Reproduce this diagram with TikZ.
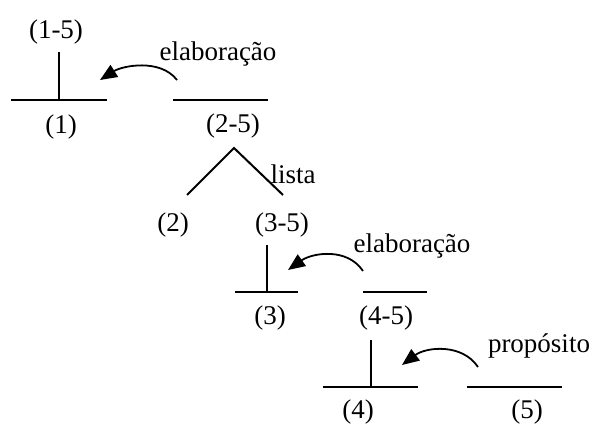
\documentclass[tikz,border=0pt]{standalone}
\usepackage{fontspec}
\setmainfont{Liberation Serif}
\usetikzlibrary{positioning,
				arrows.meta}

\begin{document}
\begin{tikzpicture}[x=1pt,y=-1pt,
		seg/.style={line width=2pt},
		rel/.style={line width=1.8pt, -{Triangle[length=17pt,width=14pt]}},
		lbl/.style={font=\fontsize{27}{32}\selectfont, inner sep=0pt}]
		\useasboundingbox (0,0) rectangle (594,428);
		% segment labels
		\foreach \name/\x/\y/\txt in {n15/56/32/(1-5), n1/61/127/(1), n25/233/126/(2-5),
			n2/173/225/(2), n35/282/225/(3-5), n3/270/318/(3), n45/386/318/(4-5),
			n4/358/412/(4), n5/527/412/(5)}
			\node[lbl] (\name) at (\x,\y) {\txt};
		% relation names
		\node[lbl, anchor=base] (elab1) at (218,60) {elaboração};
		\node[lbl, anchor=base] (lista) at (293,183) {lista};
		\node[lbl, anchor=base] (elab2) at (412,252) {elaboração};
		\node[lbl, anchor=base] (prop) at (539,352) {propósito};
		% spans
		\coordinate (b1) at (59,100);
		\coordinate (b25) at (220,100);
		\coordinate (b3) at (266.5,292);
		\coordinate (b45) at (395,292);
		\coordinate (b4) at (370.5,387);
		\coordinate (b5) at (514.5,387);
		\draw[seg] (b1) +(-48,0) -- +(48,0);
		\draw[seg] (b25) +(-47.5,0) -- +(47.5,0);
		\draw[seg] (b3) +(-31.5,0) -- +(31.5,0);
		\draw[seg] (b45) +(-32,0) -- +(32,0);
		\draw[seg] (b4) +(-47.5,0) -- +(47.5,0);
		\draw[seg] (b5) +(-47.5,0) -- +(47.5,0);
		% nuclei
		\coordinate (t1) at (59,52);
		\coordinate (t3) at (267,245);
		\coordinate (t4) at (371,340);
		\draw[seg] (t1) -- (b1);
		\draw[seg] (t3) -- (t3|-b3);
		\draw[seg] (t4) -- (t4|-b4);
		% multinuclear list
		\coordinate (apex) at (234,148);
		\coordinate (legl) at (187,195);
		\coordinate (legr) at (283,195);
		\draw[seg] (legl) -- (apex) -- (legr);
		% relation arrows
		\coordinate (e1s) at (177,80);
		\coordinate (e1t) at (100,80);
		\coordinate (e2s) at (363,271);
		\coordinate (e2t) at (288,270);
		\coordinate (e3s) at (478,367);
		\coordinate (e3t) at (402,365);
		\draw[rel] (e1s) .. controls +(-17,-22) and +(22,-14) .. (e1t);
		\draw[rel] (e2s) .. controls +(-16,-24) and +(24,-17) .. (e2t);
		\draw[rel] (e3s) .. controls +(-16,-24) and +(24,-18) .. (e3t);
\end{tikzpicture}
\end{document}
